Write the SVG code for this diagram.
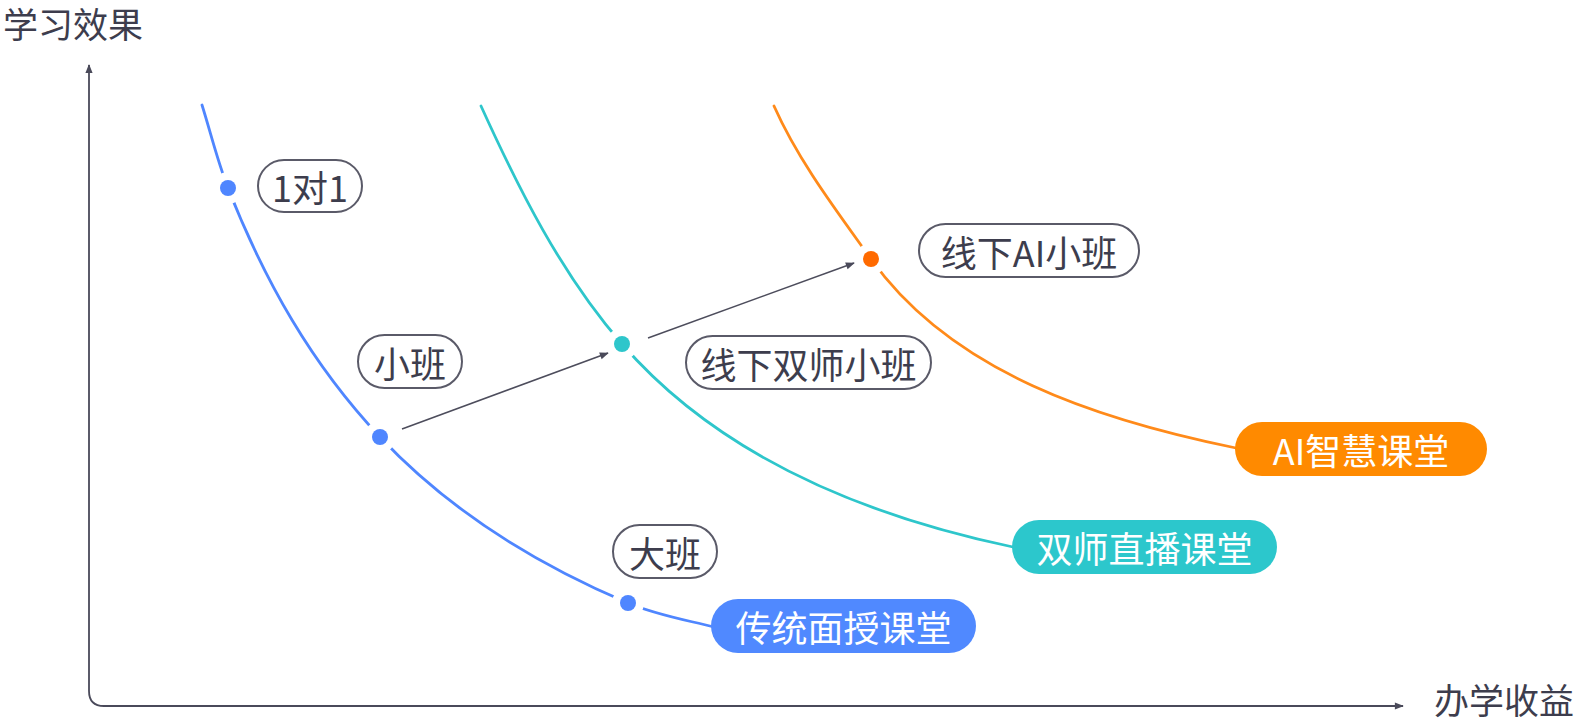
<svg xmlns="http://www.w3.org/2000/svg" width="1586" height="724" viewBox="0 0 1586 724">
<defs>
<style>
.txt{font-family:"Noto Sans CJK SC","Noto Sans",sans-serif;font-size:36px;dominant-baseline:central;text-anchor:middle}
.lbl rect{fill:#fff;stroke:#5a5a68;stroke-width:2}
.lbl text{fill:#3d3d4d}
.pill text{fill:#fff}
.curve{fill:none;stroke-width:2.8;stroke-linecap:round}
.axis{fill:none;stroke:#4a4a5a;stroke-width:1.8}
.conn{fill:none;stroke:#4d4d5c;stroke-width:1.6}
.axislbl{font-family:"Noto Sans CJK SC","Noto Sans",sans-serif;font-size:35px;fill:#3d3d4d}
</style>
<marker id="ah" viewBox="0 0 10 10" refX="9" refY="5" markerWidth="11" markerHeight="9" markerUnits="userSpaceOnUse" orient="auto-start-reverse">
<path d="M0,1 L10,5 L0,9 z" fill="#4a4a5a"/>
</marker>
</defs>
<rect width="1586" height="724" fill="#fff"/>

<g id="axes">
<path class="axis" d="M89,65 L89,691 Q89,706 104,706 L1403,706" marker-start="url(#ah)" marker-end="url(#ah)"/>
<text class="axislbl" x="3" y="38">学习效果</text>
<text class="axislbl" x="1434" y="714">办学收益</text>
</g>

<g id="curves">
<path class="curve" stroke="#4f86ff" d="M202,105 C210.7,132.7 217.4,161 228,188 C264.6,281 311.5,364.1 380,437 C448.5,510 536,564 628,603 C655.6,614.8 685,619.7 714,627"/>
<path class="curve" stroke="#2ec6cb" d="M481,106 C519,189.7 561.6,274.6 622,344 C720.4,457.3 866.2,516.2 1013,547"/>
<path class="curve" stroke="#ff8a1a" d="M774,106 C798.4,160.8 836.1,210.2 871,259 C952.3,373 1099,420 1236,448"/>
</g>

<g id="connectors">
<line class="conn" x1="402" y1="429" x2="608" y2="353" marker-end="url(#ah)"/>
<line class="conn" x1="648" y1="338" x2="854" y2="263" marker-end="url(#ah)"/>
</g>

<g id="dots">
<g id="dot-1v1"><circle cx="228" cy="188" r="16" fill="#fff"/><circle cx="228" cy="188" r="8" fill="#4f86ff"/></g>
<g id="dot-small"><circle cx="380" cy="437" r="16" fill="#fff"/><circle cx="380" cy="437" r="8" fill="#4f86ff"/></g>
<g id="dot-big"><circle cx="628" cy="603" r="16" fill="#fff"/><circle cx="628" cy="603" r="8" fill="#4f86ff"/></g>
<g id="dot-dual"><circle cx="622" cy="344" r="16" fill="#fff"/><circle cx="622" cy="344" r="8" fill="#2ec6cb"/></g>
<g id="dot-ai"><circle cx="871" cy="259" r="16" fill="#fff"/><circle cx="871" cy="259" r="8" fill="#ff6a00"/></g>
</g>

<g id="label-1v1" class="lbl"><rect x="258" y="160" width="104" height="52" rx="26"/><text class="txt" x="310" y="186">1对1</text></g>
<g id="label-small" class="lbl"><rect x="358" y="335" width="104" height="53" rx="26.5"/><text class="txt" x="410" y="361.5">小班</text></g>
<g id="label-dual-small" class="lbl"><rect x="686" y="336" width="245" height="53" rx="26.5"/><text class="txt" x="808.5" y="362.5">线下双师小班</text></g>
<g id="label-ai-small" class="lbl"><rect x="919" y="224" width="220" height="53" rx="26.5"/><text class="txt" x="1029" y="250.5">线下AI小班</text></g>
<g id="label-big" class="lbl"><rect x="613" y="525" width="104" height="53" rx="26.5"/><text class="txt" x="665" y="551.5">大班</text></g>

<g id="pill-traditional" class="pill"><rect x="711" y="599" width="265" height="54" rx="27" fill="#5089ff"/><text class="txt" x="843.5" y="626">传统面授课堂</text></g>
<g id="pill-dual-live" class="pill"><rect x="1012" y="520" width="265" height="54" rx="27" fill="#2cc7cc"/><text class="txt" x="1144.5" y="547">双师直播课堂</text></g>
<g id="pill-ai" class="pill"><rect x="1235" y="422" width="252" height="54" rx="27" fill="#ff8a00"/><text class="txt" x="1361" y="449">AI智慧课堂</text></g>
</svg>
